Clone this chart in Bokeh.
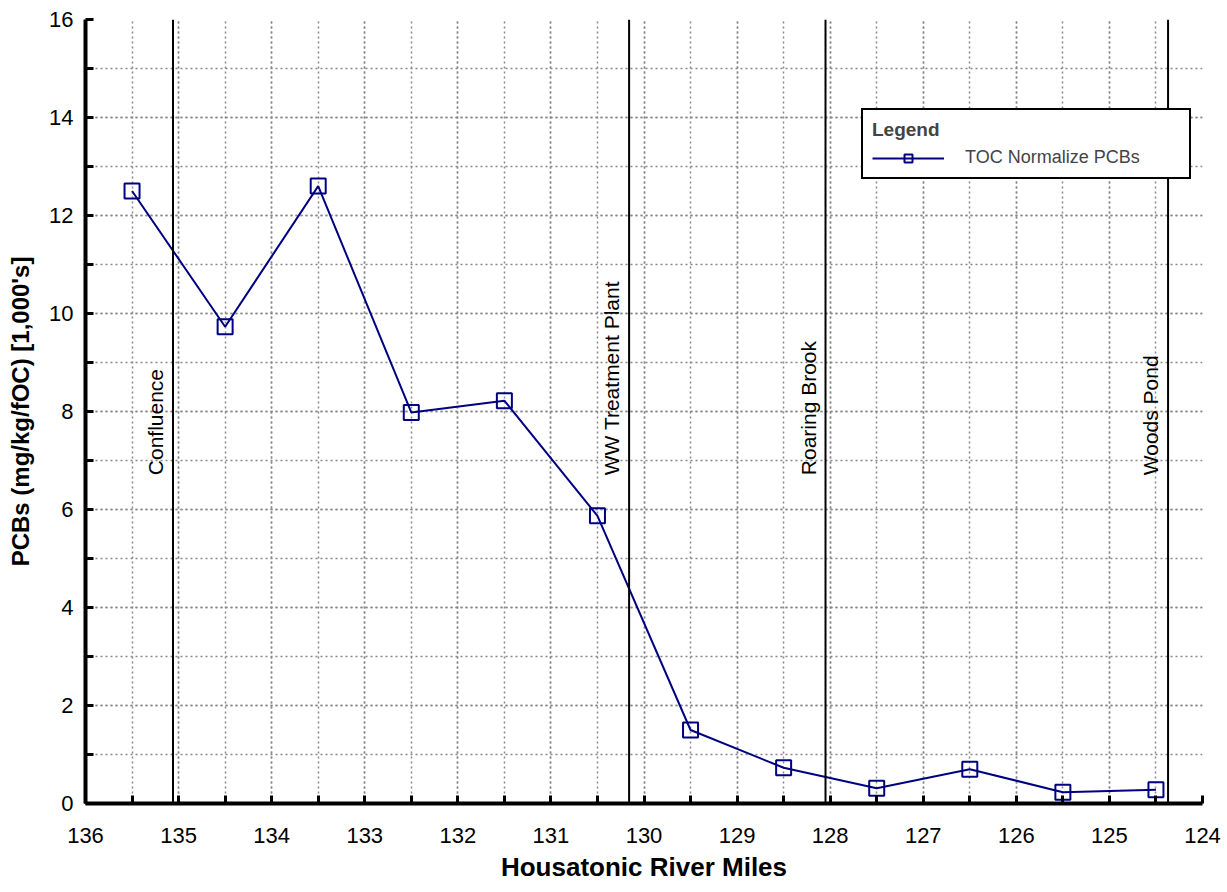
from bokeh.plotting import figure
from bokeh.models import Range1d, ColumnDataSource, Span, Legend, LegendItem, SingleIntervalTicker
from bokeh.core.properties import value
from bokeh.embed import file_html
from bokeh.resources import INLINE
import math

river_miles = [135.5, 134.5, 133.5, 132.5, 131.5, 130.5, 129.5, 128.5, 127.5, 126.5, 125.5, 124.5]
pcbs = [12.5, 9.73, 12.6, 7.98, 8.22, 5.87, 1.5, 0.73, 0.31, 0.7, 0.23, 0.28]

landmark_names = ["Confluence", "WW Treatment Plant", "Roaring Brook", "Woods Pond"]
landmark_miles = [135.06, 130.16, 128.05, 124.37]
landmark_label_y = 6.7

FONT = "Liberation Sans"
NAVY = "#000080"

p = figure(width=1227, height=892, output_backend="svg", toolbar_location=None,
           x_range=Range1d(136, 124), y_range=Range1d(0, 16),
           min_border_left=85, min_border_right=25, min_border_top=19, min_border_bottom=89)
p.outline_line_color = None
p.background_fill_color = "white"

# axes
p.xaxis.ticker = SingleIntervalTicker(interval=1, num_minor_ticks=2)
p.yaxis.ticker = SingleIntervalTicker(interval=2, num_minor_ticks=2)
for ax in (p.xaxis[0], p.yaxis[0]):
    ax.axis_line_width = 4
    ax.axis_line_color = "black"
    ax.major_tick_in = 0
    ax.major_tick_out = 0
    ax.minor_tick_in = 8
    ax.minor_tick_out = 0
    ax.minor_tick_line_width = 3
    ax.minor_tick_line_color = "black"
    ax.major_label_text_font = FONT
    ax.major_label_text_font_size = "22px"
    ax.major_label_text_color = "black"
    ax.axis_label_text_font = FONT
    ax.axis_label_text_font_style = "bold"
    ax.axis_label_text_color = "black"
p.xaxis.axis_label = "Housatonic River Miles"
p.yaxis.axis_label = "PCBs (mg/kg/fOC) [1,000's]"
p.xaxis.axis_label_text_font_size = "26px"
p.yaxis.axis_label_text_font_size = "24px"
p.xaxis.major_label_standoff = 24
p.xaxis.axis_label_standoff = 6
p.yaxis.major_label_standoff = 12
p.yaxis.axis_label_standoff = 12

# grids
for g in (p.xgrid[0], p.ygrid[0]):
    g.grid_line_color = "#888888"
    g.grid_line_dash = "2 3"
    g.grid_line_width = 1.5
    g.minor_grid_line_color = "#888888"
    g.minor_grid_line_dash = "2 3"
    g.minor_grid_line_width = 1.5

# landmark lines and labels
for mile in landmark_miles:
    p.add_layout(Span(location=mile, dimension="height", line_color="black", line_width=2))
src_lm = ColumnDataSource(dict(x=landmark_miles, y=[landmark_label_y] * len(landmark_miles), t=landmark_names))
p.text(x="x", y="y", text="t", source=src_lm, angle=math.pi / 2, text_baseline="bottom",
       text_align="left", x_offset=-6, text_font=value(FONT), text_font_size="21px", text_color="black")

# data
src = ColumnDataSource(dict(x=river_miles, y=pcbs))
ln = p.line("x", "y", source=src, line_color=NAVY, line_width=2)
sc = p.scatter("x", "y", source=src, marker="square", size=15, line_color=NAVY, line_width=2,
               fill_color=None)

legend = Legend(items=[LegendItem(label="TOC Normalize PCBs", renderers=[ln, sc])],
                title="Legend", orientation="vertical")
legend.margin = 0
legend.border_line_color = "black"
legend.border_line_alpha = 1.0
legend.border_line_width = 2
legend.background_fill_alpha = 1.0
legend.title_text_font = FONT
legend.title_text_font_style = "bold"
legend.title_text_font_size = "19px"
legend.title_standoff = 6
legend.label_text_font = FONT
legend.label_text_font_size = "18px"
legend.glyph_width = 72
legend.glyph_height = 20
legend.label_standoff = 21
legend.padding = 9
legend.label_width = 215
legend.spacing = 0
p.add_layout(legend)
legend.location = (776, 624)

open("out.html", "w").write(file_html(p, INLINE))
